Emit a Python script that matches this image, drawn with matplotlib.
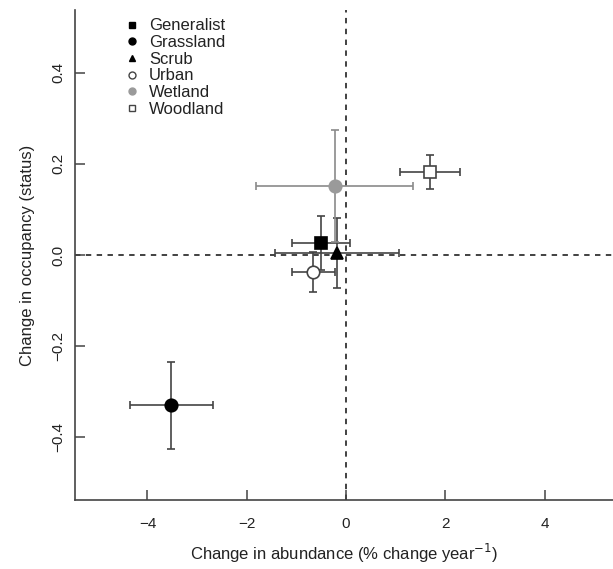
"""
Change in occupancy vs change in abundance by habitat group,
with error bars, drawn in a base-R-like style.
"""

import matplotlib
matplotlib.use("Agg")
import matplotlib.pyplot as plt
from matplotlib.lines import Line2D

plt.rcParams["font.family"] = ["Liberation Sans", "DejaVu Sans"]

groups = ["Generalist", "Grassland", "Scrub", "Urban", "Wetland", "Woodland"]
abundance = [-0.50, -3.52, -0.18, -0.66, -0.23, 1.69]
abundance_err = [0.58, 0.84, 1.25, 0.43, 1.58, 0.60]
occupancy = [0.026, -0.33, 0.005, -0.037, 0.152, 0.182]
occupancy_err = [0.060, 0.096, 0.077, 0.044, 0.123, 0.038]

x_ticks = [-4, -2, 0, 2, 4]
y_ticks = [-0.4, -0.2, 0.0, 0.2, 0.4]

# marker style per group: (marker, facecolor, edgecolor, bar colour)
styles = {
    "Generalist": ("s", "black", "black", "#444444"),
    "Grassland": ("o", "black", "black", "#444444"),
    "Scrub": ("^", "black", "black", "#444444"),
    "Urban": ("o", "white", "#444444", "#444444"),
    "Wetland": ("o", "#9a9a9a", "#9a9a9a", "#8a8a8a"),
    "Woodland": ("s", "white", "#444444", "#444444"),
}

fig = plt.figure(figsize=(6.13, 5.69), dpi=100)
ax = fig.add_axes([75 / 613, 69 / 569, 1 - 75 / 613, 490 / 569])

# reference lines through zero
ax.axhline(0, color="#333333", lw=1.3, ls=(0, (3, 3)), zorder=1)
ax.axvline(0, color="#333333", lw=1.3, ls=(0, (3, 3)), zorder=1)

for g, x, xe, y, ye in zip(groups, abundance, abundance_err, occupancy, occupancy_err):
    m, fc, ec, bc = styles[g]
    ax.errorbar(x, y, xerr=xe, yerr=ye, fmt="none", ecolor=bc, elinewidth=1.2,
                capsize=3, capthick=1.2, zorder=2)
    ax.plot(x, y, marker=m, ms=9, mfc=fc, mec=ec, mew=1.2, ls="none", zorder=3)

ax.set_xlim(-5.46, 5.38)
ax.set_ylim(-0.538, 0.538)
ax.set_xticks(x_ticks)
ax.set_xticklabels(["\u22124", "\u22122", "0", "2", "4"])
ax.set_yticks(y_ticks)
ax.set_yticklabels(["\u22120.4", "\u22120.2", "0.0", "0.2", "0.4"], rotation=90,
                   va="center")

for side in ["top", "right"]:
    ax.spines[side].set_visible(False)
for side in ["left", "bottom"]:
    ax.spines[side].set_color("#444444")
    ax.spines[side].set_linewidth(1.2)

ax.tick_params(direction="in", length=7, width=1.1, color="#444444",
               labelsize=11, labelcolor="#222222", pad=12)
ax.tick_params(axis="y", pad=7)

ax.set_xlabel("Change in abundance (% change year$^{-1}$)", fontsize=12,
              color="#222222", labelpad=8)
ax.set_ylabel("Change in occupancy (status)", fontsize=12, color="#222222",
              labelpad=12)

# small legend markers, like R's legend with pch
handles = []
for g in groups:
    m, fc, ec, bc = styles[g]
    handles.append(Line2D([], [], marker=m, ls="none", ms=5, mfc=fc, mec=ec, mew=1.0))
leg = ax.legend(handles, groups, loc="upper left",
                bbox_to_anchor=(115 / 613, 1 - 10 / 569), bbox_transform=fig.transFigure,
                frameon=False, fontsize=12, borderpad=0, handlelength=1.0,
                handletextpad=0.55, labelspacing=0.1)
for t in leg.get_texts():
    t.set_color("#222222")

fig.savefig("out.png", dpi=100)
plt.close(fig)
